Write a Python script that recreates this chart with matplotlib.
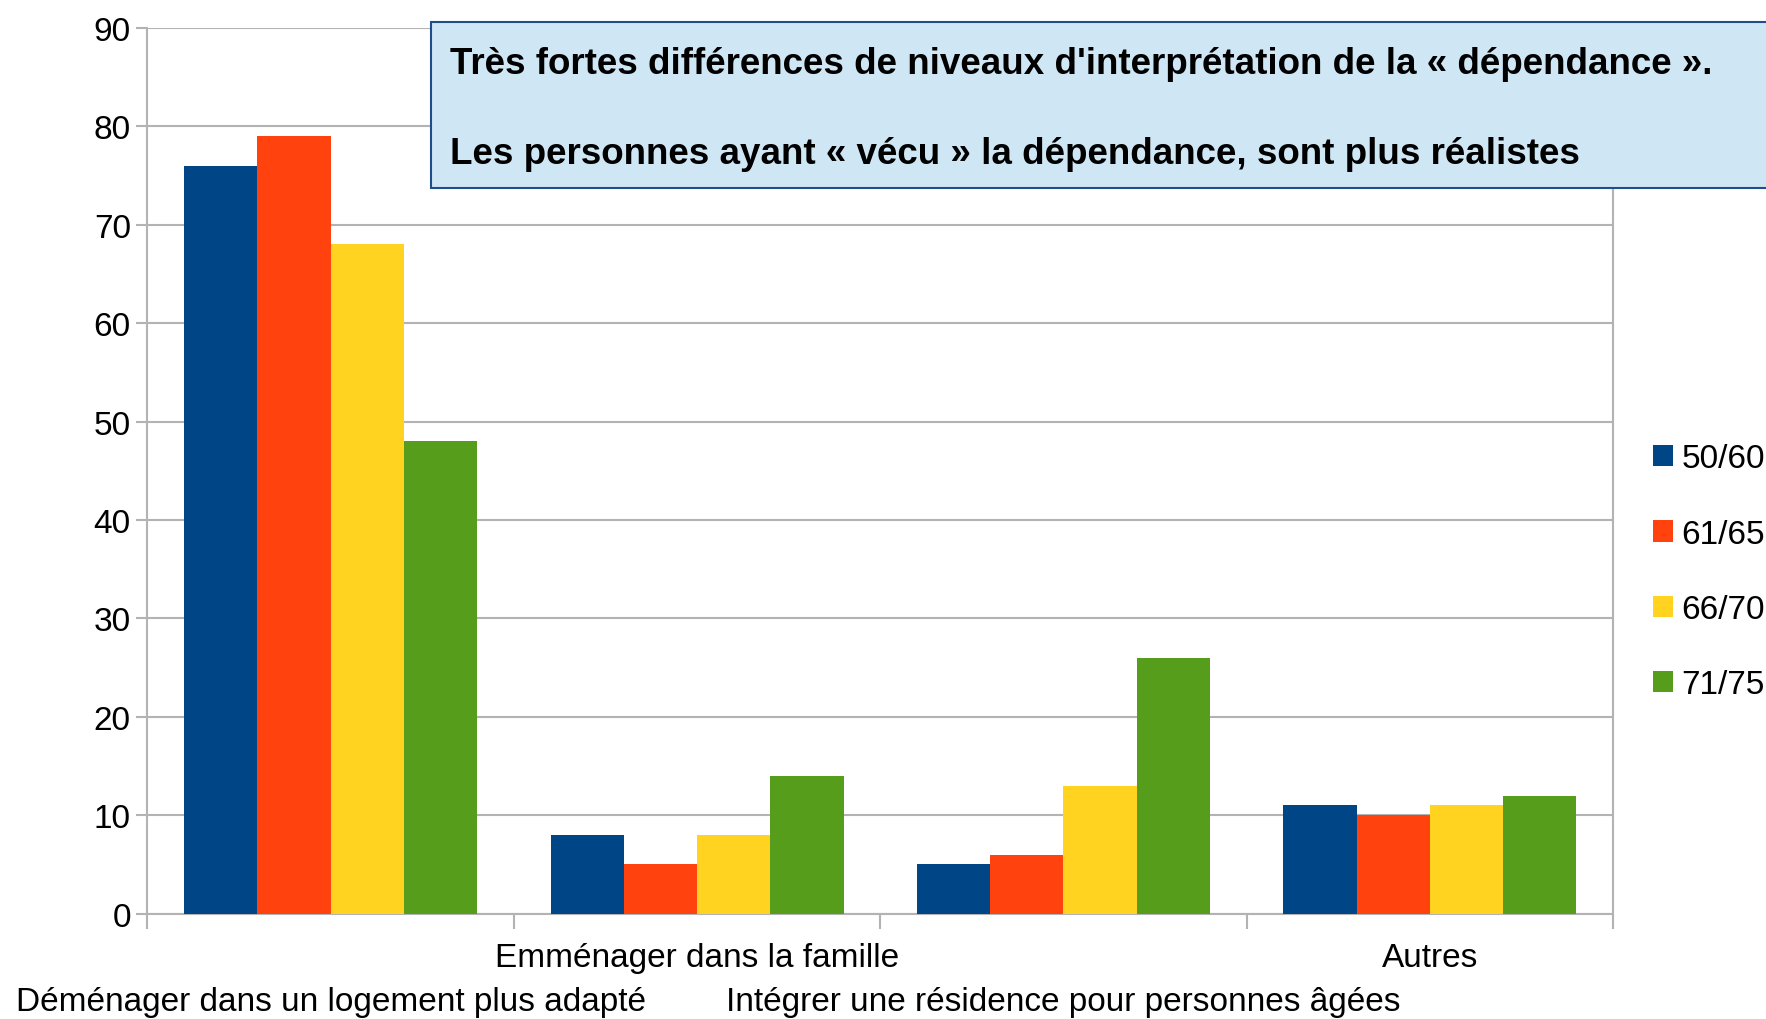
import matplotlib
matplotlib.use("Agg")
import matplotlib.pyplot as plt
from matplotlib.patches import Rectangle, Patch
from matplotlib.transforms import blended_transform_factory, offset_copy
import numpy as np

plt.rcParams['font.family'] = ['Liberation Sans', 'DejaVu Sans']

categories = [
    "Déménager dans un logement plus adapté",
    "Emménager dans la famille",
    "Intégrer une résidence pour personnes âgées",
    "Autres",
]
series = ["50/60", "61/65", "66/70", "71/75"]
values = {
    "50/60": [76, 8, 5, 11],
    "61/65": [79, 5, 6, 10],
    "66/70": [68, 8, 13, 11],
    "71/75": [48, 14, 26, 12],
}
colors = ["#004586", "#ff420e", "#ffd320", "#579d1c"]
title_lines = [
    "Très fortes différences de niveaux d'interprétation de la « dépendance ».",
    "Les personnes ayant « vécu » la dépendance, sont plus réalistes",
]

fig = plt.figure(figsize=(17.66, 10.2), dpi=100)
ax = fig.add_axes([0.0835, 0.1033, 0.9134 - 0.0835, 0.9716 - 0.1033])

x = np.arange(len(categories))
w = 0.2
for i, (s, c) in enumerate(zip(series, colors)):
    ax.bar(x - 0.3 + i * w, values[s], width=w, color=c, zorder=3)

ax.set_xlim(-0.5, len(categories) - 0.5)
ax.set_ylim(0, 90)
ax.set_yticks(range(0, 91, 10))
ax.grid(axis="y", color="#b3b3b3", linewidth=1.5, zorder=0)
for sp in ["left", "bottom", "right", "top"]:
    ax.spines[sp].set_color("#b3b3b3")
    ax.spines[sp].set_linewidth(1.5)
ax.spines["top"].set_visible(False)
ax.tick_params(axis="y", length=8, width=1.5, color="#b3b3b3",
               labelsize=24, pad=4)

# category boundaries as ticks, labels staggered on two rows
ax.set_xticks(np.arange(-0.5, len(categories), 1.0))
ax.set_xticklabels([])
ax.tick_params(axis="x", length=11, width=1.5, color="#b3b3b3")

trans = blended_transform_factory(ax.transData, ax.transAxes)
for i, cat in enumerate(categories):
    dy = -31.5 if i % 2 == 1 else -63.5
    t = offset_copy(trans, fig=fig, x=0, y=dy, units="points")
    ax.text(x[i], 0, cat, transform=t, ha="center", va="center",
            fontsize=24, color="#000000")

# title box
box = Rectangle((431 / 1766, 1 - 189 / 1020), 1.0, (189 - 22.5) / 1020,
                transform=fig.transFigure, facecolor="#cfe6f5",
                edgecolor="#1f4e8c", linewidth=1.5, zorder=10)
fig.patches.append(box)
fig.text(450 / 1766, 1 - 65 / 1020, title_lines[0], fontsize=26.5,
         fontweight="bold", va="center", ha="left", zorder=11)
fig.text(450 / 1766, 1 - 155 / 1020, title_lines[1], fontsize=26.5,
         fontweight="bold", va="center", ha="left", zorder=11)

handles = [Patch(facecolor=c, label=s) for s, c in zip(series, colors)]
fig.legend(handles=handles, loc="upper left",
           bbox_to_anchor=(1640 / 1766, 1 - 431 / 1020), frameon=False,
           fontsize=24, handlelength=0.6, handleheight=0.6,
           handletextpad=0.25, labelspacing=1.33, borderaxespad=0)

fig.savefig("out.png", dpi=100)
